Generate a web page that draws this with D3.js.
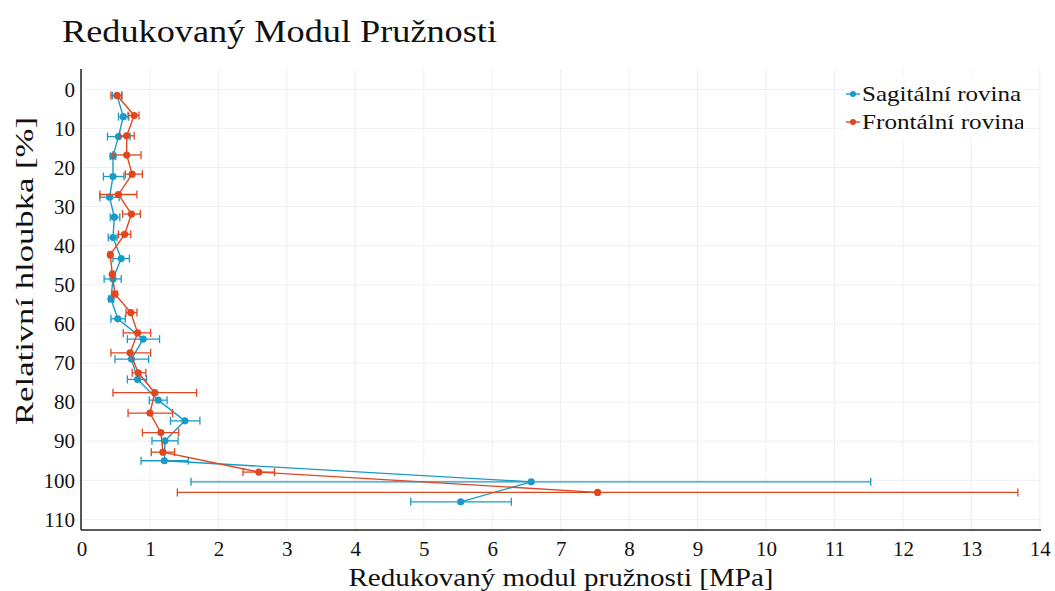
<!DOCTYPE html>
<html>
<head>
<meta charset="utf-8">
<script src="https://cdn.jsdelivr.net/npm/d3@7"></script>
<style>
  body { margin: 0; background: #fff; }
  svg { display: block; font-family: "Liberation Serif", "DejaVu Serif", serif; }
</style>
</head>
<body>
<svg id="chart" width="1055" height="591"></svg>
<script>
// Sagitální rovina (blue)
var sagDepth = [1.6, 7.0, 12.1, 17.1, 22.3, 27.6, 32.7, 37.9, 43.3, 48.5, 53.6, 58.7, 63.9, 69.0, 74.2, 79.5, 84.8, 89.9, 95.0, 100.4, 105.5];
var sagMod   = [0.52, 0.61, 0.54, 0.46, 0.46, 0.41, 0.48, 0.46, 0.58, 0.46, 0.43, 0.53, 0.90, 0.73, 0.82, 1.12, 1.51, 1.22, 1.21, 6.57, 5.54];
var sagLo    = [0.45, 0.54, 0.38, 0.42, 0.32, 0.27, 0.42, 0.39, 0.46, 0.33, 0.40, 0.43, 0.67, 0.49, 0.67, 0.99, 1.30, 1.03, 0.87, 1.60, 4.81];
var sagHi    = [0.59, 0.69, 0.71, 0.50, 0.62, 0.55, 0.56, 0.52, 0.70, 0.58, 0.47, 0.64, 1.14, 0.98, 0.95, 1.25, 1.73, 1.41, 1.56, 11.53, 6.28];

// Frontální rovina (red)
var froDepth = [1.6, 6.7, 11.9, 16.8, 21.7, 26.9, 31.9, 37.1, 42.3, 47.3, 52.4, 57.1, 62.3, 67.4, 72.5, 77.6, 82.8, 87.8, 92.8, 97.9, 103.1];
var froMod   = [0.52, 0.77, 0.66, 0.66, 0.74, 0.54, 0.73, 0.63, 0.42, 0.45, 0.49, 0.72, 0.82, 0.71, 0.83, 1.07, 1.00, 1.16, 1.19, 2.59, 7.54];
var froLo    = [0.43, 0.68, 0.56, 0.46, 0.64, 0.27, 0.60, 0.54, 0.40, 0.43, 0.46, 0.65, 0.61, 0.43, 0.74, 0.46, 0.68, 0.89, 1.02, 2.36, 1.40];
var froHi    = [0.59, 0.84, 0.77, 0.87, 0.89, 0.81, 0.86, 0.72, 0.44, 0.47, 0.52, 0.81, 1.01, 1.01, 0.94, 1.68, 1.33, 1.42, 1.36, 2.82, 13.68];

var seriesNames = ['Sagitální rovina', 'Frontální rovina'];
var seriesColors = ['#1a9bc6', '#e0461f'];
var xTicks = d3.range(0, 15, 1);
var yTicks = d3.range(0, 111, 10);

var svg = d3.select('#chart');
var plotLeft = 81, plotRight = 1041, plotTop = 69, plotBottom = 530;

var xScale = d3.scaleLinear().domain([0, 14]).range([81.5, 1039.8]);
var yScale = d3.scaleLinear().domain([0, 110]).range([89.3, 519.4]);

// grid
svg.append('g').selectAll('line').data(xTicks).enter().append('line')
  .attr('x1', function (d) { return xScale(d); }).attr('x2', function (d) { return xScale(d); })
  .attr('y1', plotTop).attr('y2', plotBottom)
  .attr('stroke', '#edf0f3').attr('stroke-width', 1);
svg.append('g').selectAll('line').data(yTicks).enter().append('line')
  .attr('x1', plotLeft).attr('x2', plotRight)
  .attr('y1', function (d) { return yScale(d); }).attr('y2', function (d) { return yScale(d); })
  .attr('stroke', '#edf0f3').attr('stroke-width', 1);

// axes
var xAxis = svg.append('g').attr('transform', 'translate(0,' + plotBottom + ')')
  .call(d3.axisBottom(xScale).tickValues(xTicks).tickSize(0).tickPadding(10).tickFormat(d3.format('d')));
var yAxis = svg.append('g').attr('transform', 'translate(' + plotLeft + ',0)')
  .call(d3.axisLeft(yScale).tickValues(yTicks).tickSize(0).tickPadding(6).tickFormat(d3.format('d')));
[xAxis, yAxis].forEach(function (a) {
  a.select('.domain').remove();
  a.selectAll('text').attr('font-family', '"Liberation Serif", serif').attr('font-size', 21).attr('fill', '#111');
});
xAxis.selectAll('text').attr('dy', '0.75em');
svg.append('line').attr('x1', plotLeft).attr('x2', plotLeft).attr('y1', plotTop).attr('y2', plotBottom)
  .attr('stroke', '#222').attr('stroke-width', 1.5);
svg.append('line').attr('x1', plotLeft).attr('x2', plotRight).attr('y1', plotBottom).attr('y2', plotBottom)
  .attr('stroke', '#222').attr('stroke-width', 1.5);

// series
function drawSeries(depth, mod, lo, hi, color) {
  var g = svg.append('g');
  var rows = depth.map(function (d, i) { return { y: d, x: mod[i], lo: lo[i], hi: hi[i] }; });
  var err = g.append('g').attr('stroke', color).attr('stroke-width', 1.3);
  rows.forEach(function (r) {
    var yy = yScale(r.y);
    err.append('line').attr('x1', xScale(r.lo)).attr('x2', xScale(r.hi)).attr('y1', yy).attr('y2', yy);
    err.append('line').attr('x1', xScale(r.lo)).attr('x2', xScale(r.lo)).attr('y1', yy - 4).attr('y2', yy + 4);
    err.append('line').attr('x1', xScale(r.hi)).attr('x2', xScale(r.hi)).attr('y1', yy - 4).attr('y2', yy + 4);
  });
  var line = d3.line().x(function (r) { return xScale(r.x); }).y(function (r) { return yScale(r.y); });
  g.append('path').datum(rows).attr('d', line).attr('fill', 'none')
    .attr('stroke', color).attr('stroke-width', 1.4);
  g.selectAll('circle').data(rows).enter().append('circle')
    .attr('cx', function (r) { return xScale(r.x); })
    .attr('cy', function (r) { return yScale(r.y); })
    .attr('r', 3.6).attr('fill', color);
}
drawSeries(sagDepth, sagMod, sagLo, sagHi, seriesColors[0]);
drawSeries(froDepth, froMod, froLo, froHi, seriesColors[1]);

// legend (text runs past the box and is clipped, as in the original)
var legendTextLen = [159, 163];
svg.append('clipPath').attr('id', 'legclip').append('rect')
  .attr('x', 843).attr('y', 76).attr('width', 180).attr('height', 62);
var leg = svg.append('g').attr('clip-path', 'url(#legclip)');
leg.append('rect').attr('x', 843).attr('y', 76).attr('width', 180).attr('height', 62).attr('fill', '#fff');
seriesNames.forEach(function (name, i) {
  var yy = 94 + i * 28;
  leg.append('line').attr('x1', 846).attr('x2', 860).attr('y1', yy).attr('y2', yy)
    .attr('stroke', seriesColors[i]).attr('stroke-width', 1.4);
  leg.append('circle').attr('cx', 853).attr('cy', yy).attr('r', 3).attr('fill', seriesColors[i]);
  leg.append('text').attr('x', 862).attr('y', yy + 7).attr('font-size', 22).attr('fill', '#111')
    .attr('textLength', legendTextLen[i]).attr('lengthAdjust', 'spacingAndGlyphs').text(name);
});

// titles
svg.append('text').attr('x', 62).attr('y', 42).attr('font-size', 31).attr('fill', '#111')
  .attr('textLength', 435).attr('lengthAdjust', 'spacingAndGlyphs')
  .text('Redukovaný Modul Pružnosti');
svg.append('text').attr('x', 561).attr('y', 586).attr('text-anchor', 'middle').attr('font-size', 26).attr('fill', '#111')
  .attr('textLength', 425).attr('lengthAdjust', 'spacingAndGlyphs')
  .text('Redukovaný modul pružnosti [MPa]');
svg.append('text').attr('transform', 'translate(33,271) rotate(-90)').attr('text-anchor', 'middle')
  .attr('font-size', 26).attr('fill', '#111')
  .attr('textLength', 308).attr('lengthAdjust', 'spacingAndGlyphs')
  .text('Relativní hloubka [%]');
</script>
</body>
</html>
